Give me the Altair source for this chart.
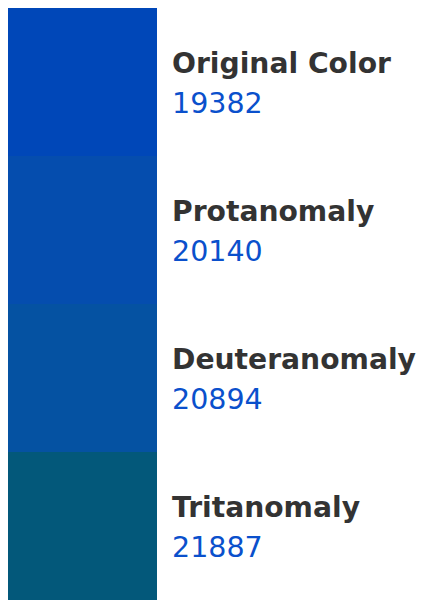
import altair as alt
import pandas as pd

names = ["Original Color", "Protanomaly", "Deuteranomaly", "Tritanomaly"]
values = ["19382", "20140", "20894", "21887"]
colors = ["#0047b8", "#054dae", "#0552a2", "#03587a"]

df = pd.DataFrame({"name": names, "value": values, "color": colors})

yenc = alt.Y("name:N", sort=names, axis=None,
             scale=alt.Scale(paddingInner=0, paddingOuter=0))

rects = alt.Chart(df).mark_rect().encode(
    y=yenc,
    x=alt.value(0),
    x2=alt.value(149),
    color=alt.Color("color:N", scale=None, legend=None),
)

titles = alt.Chart(df).mark_text(
    align="left", baseline="middle", dy=-17,
    font="DejaVu Sans", fontWeight="bold", fontSize=28.2, color="#333333",
).encode(y=yenc, x=alt.value(164), text="name:N")

nums = alt.Chart(df).mark_text(
    align="left", baseline="middle", dy=22,
    font="DejaVu Sans", fontSize=28.5, color="#0a50cc",
).encode(y=yenc, x=alt.value(164), text="value:N")

chart = alt.layer(rects, titles, nums).properties(
    width=409, height=592, padding=0, autosize=alt.AutoSizeParams(type="none"),
    background="white",
).configure_view(stroke=None)

chart.save("out.html", embed_options={"renderer": "svg", "actions": False})
